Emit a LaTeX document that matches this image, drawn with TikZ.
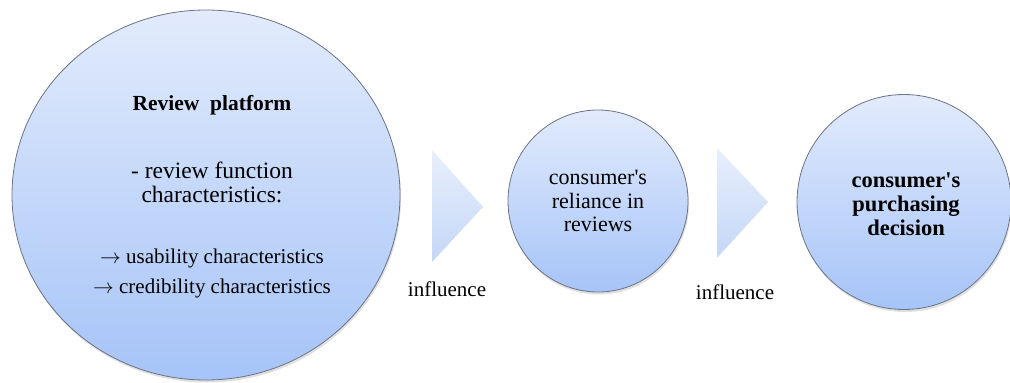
\documentclass[tikz,border=0pt]{standalone}
\usepackage{fontspec}
\newfontfamily\reffont{Liberation Serif}
\usetikzlibrary{shapes,shadows,positioning}

\definecolor{bubbletop}{HTML}{E2EBFC}
\definecolor{bubblebot}{HTML}{A6C4F8}
\definecolor{bubbleline}{HTML}{6B7484}
\definecolor{pointtop}{HTML}{E8EFFC}
\definecolor{pointbot}{HTML}{C4D7F7}

\begin{document}
\begin{tikzpicture}[x=1pt, y=-1pt,
    bubble/.style={ellipse, draw=bubbleline, line width=0.8pt, top color=bubbletop, bottom color=bubblebot, inner sep=0pt, drop shadow={opacity=0.25, shadow xshift=1pt, shadow yshift=-2.5pt}},
    pointer/.style={top color=pointtop, bottom color=pointbot, draw=none},
    txt/.style={align=center, font=\reffont\fontsize{21}{25}\selectfont},
    bigtxt/.style={align=center, font=\reffont\fontsize{22}{23.5}\selectfont}
]
\useasboundingbox (0,0) rectangle (1010,383);

% Review platform
\node[bubble, minimum width=388pt, minimum height=370pt] (platform) at (206,195) {};
\node[txt] (platformtxt) at (212,197) {{\fontsize{21.5}{25}\selectfont\bfseries Review\ \ platform}\\[43pt]
  {\fontsize{23.5}{25}\selectfont - review function}\\[-1pt]
  {\fontsize{23.5}{25}\selectfont characteristics:}\\[36pt]
  $\rightarrow$ usability characteristics\\[5pt] $\rightarrow$ credibility characteristics};

% first pointer
\shade[pointer] (432,150) -- (483,207) -- (432,262) -- cycle;
\node[txt] (influence1) at (447,289) {influence};

% Reliance
\node[bubble, minimum width=180pt, minimum height=182pt] (reliance) at (598,201) {};
\node[bigtxt] (reliancetxt) at (598,201) {consumer's\\reliance in\\reviews};

% second pointer
\shade[pointer] (717,148) -- (768,202) -- (717,258) -- cycle;
\node[txt] (influence2) at (735,292) {influence};

% Decision
\node[bubble, minimum width=214pt, minimum height=215pt] (decision) at (904,202) {};
\node[bigtxt, font=\reffont\fontsize{22.5}{24}\selectfont\bfseries] (decisiontxt) at (906,204) {consumer's\\purchasing\\decision};

\end{tikzpicture}
\end{document}
